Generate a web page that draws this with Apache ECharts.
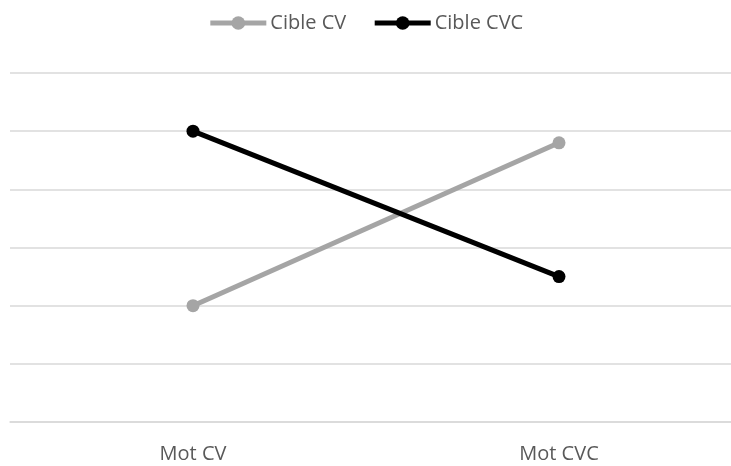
<!DOCTYPE html>
<html>
<head>
<meta charset="utf-8">
<script src="https://cdn.jsdelivr.net/npm/echarts@6/dist/echarts.min.js"></script>
<style>
  html, body { margin: 0; padding: 0; background: #fff; }
  #main { width: 731px; height: 466px; }
</style>
</head>
<body>
<div id="main"></div>
<script>
const categories = ['Mot CV', 'Mot CVC'];
const cibleCV = [2, 4.8];
const cibleCVC = [5, 2.5];

const chart = echarts.init(document.getElementById('main'));

function makeLine(name, data, color) {
    return {
        name: name,
        type: 'line',
        data: data,
        symbol: 'circle',
        symbolSize: 13,
        lineStyle: { color: color, width: 5 },
        itemStyle: { color: color },
        emphasis: { disabled: true }
    };
}

chart.setOption({
    animation: false,
    textStyle: { fontFamily: 'Open Sans' },
    legend: {
        top: 8,
        left: 'center',
        itemWidth: 56,
        itemHeight: 17,
        itemGap: 26,
        lineStyle: { width: 5 },
        textStyle: { color: '#595959', fontSize: 20, fontFamily: 'Open Sans', padding: [0, 0, 0, -1] },
        data: ['Cible CV', 'Cible CVC']
    },
    grid: { left: 10, width: 732, top: 73, bottom: 44, outerBoundsMode: 'none' },
    xAxis: {
        type: 'category',
        data: categories,
        axisLine: { lineStyle: { color: '#D9D9D9', width: 1.5 } },
        axisTick: { show: false },
        axisLabel: { color: '#595959', fontSize: 20, margin: 22 }
    },
    yAxis: {
        type: 'value',
        min: 0,
        max: 6,
        interval: 1,
        axisLabel: { show: false },
        axisLine: { show: false },
        axisTick: { show: false },
        splitLine: { lineStyle: { color: '#D9D9D9', width: 1.5 } }
    },
    series: [
        makeLine('Cible CV', cibleCV, '#A5A5A5'),
        makeLine('Cible CVC', cibleCVC, '#000000')
    ]
});
</script>
</body>
</html>
